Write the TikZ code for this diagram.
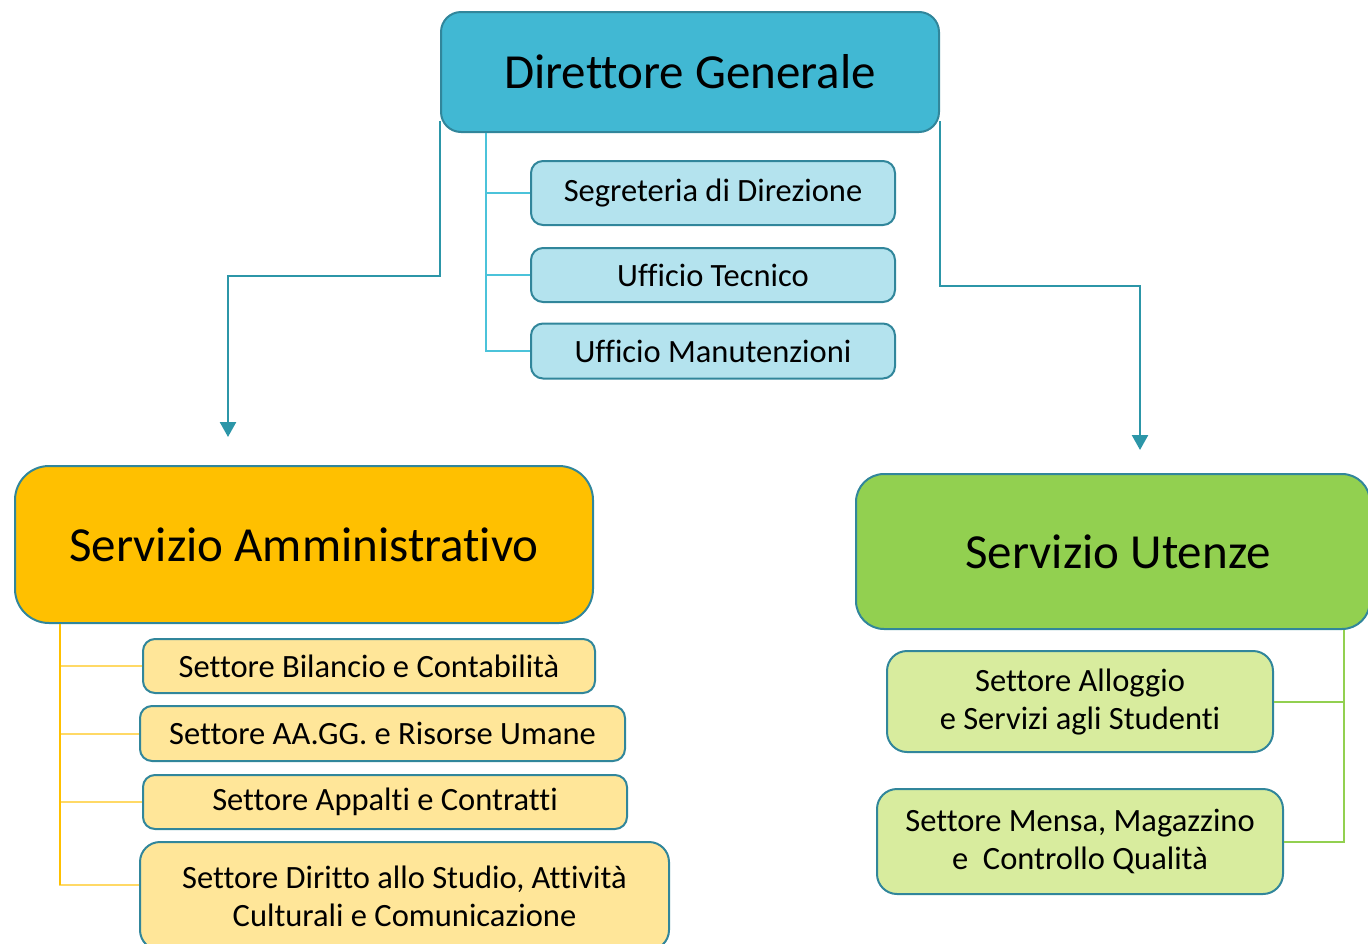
\documentclass[tikz,border=0pt]{standalone}
\usepackage{fontspec}
\setmainfont{Carlito}[Ligatures=NoCommon]
\usetikzlibrary{arrows.meta}
\definecolor{boxline}{HTML}{31869B}
\definecolor{dgfill}{HTML}{41B8D3}
\definecolor{ufill}{HTML}{B4E3EE}
\definecolor{uline}{HTML}{4BC3DA}
\definecolor{arrline}{HTML}{2C96A8}
\definecolor{safill}{HTML}{FFC000}
\definecolor{sfill}{HTML}{FFE699}
\definecolor{sline}{HTML}{FFD966}
\definecolor{sufill}{HTML}{92D050}
\definecolor{gfill}{HTML}{D8EC9E}
\begin{document}
\begin{tikzpicture}[x=1pt,y=-1pt,
  box/.style={draw=boxline, line width=2pt, rounded corners=12pt, align=center, inner sep=0pt},
  ufficio/.style={box, fill=ufill, minimum width=364pt, font=\fontsize{32.5}{38}\selectfont},
  settore/.style={box, fill=sfill, font=\fontsize{32.5}{38}\selectfont},
  gsettore/.style={box, fill=gfill, rounded corners=20pt, font=\fontsize{32.5}{38}\selectfont},
  big/.style={box, font=\fontsize{49}{55}\selectfont},
  arr/.style={draw=arrline, line width=2.5pt, -{Triangle[width=16pt,length=15pt]}}]
\useasboundingbox (0,0) rectangle (1368,943);
\clip (0,0) rectangle (1368,943);
\node[big, fill=dgfill, minimum width=498pt, minimum height=120pt, rounded corners=20pt] (dg) at (690,72) {Direttore Generale};
\node[ufficio, minimum height=64pt] (sd) at (713,193) {Segreteria di Direzione};
\node[ufficio, minimum height=54pt] (ut) at (713,275) {Ufficio Tecnico};
\node[ufficio, minimum height=55pt] (um) at (713,351) {Ufficio Manutenzioni};
\node[big, fill=safill, minimum width=578pt, minimum height=157pt, rounded corners=34pt] (sa) at (304,544.5) {Servizio Amministrativo};
\node[big, fill=sufill, minimum width=514pt, minimum height=155pt, rounded corners=28pt] (su) at (1113,551.5) {\hspace*{10pt}Servizio Utenze};
\node[settore, minimum width=452pt, minimum height=54pt] (sb) at (369,666) {Settore Bilancio e Contabilità};
\node[settore, minimum width=485pt, minimum height=55pt] (sg) at (382.5,733.5) {Settore AA.GG. e Risorse Umane};
\node[settore, minimum width=484pt, minimum height=54pt] (sap) at (385,802) {Settore Appalti e Contratti};
\node[settore, rounded corners=20pt, minimum width=529pt, minimum height=108pt] (sds) at (404.5,896) {Settore Diritto allo Studio, Attività\\Culturali e Comunicazione};
\node[gsettore, minimum width=386pt, minimum height=101pt] (sal) at (1080,701.5) {Settore Alloggio\\e Servizi agli Studenti};
\node[gsettore, minimum width=406pt, minimum height=105pt] (sm) at (1080,841.5) {Settore Mensa, Magazzino\\e~~Controllo Qualità};
\coordinate (sa-in) at (228,437);
\coordinate (su-in) at (1140,450);
\draw[arr] ([yshift=12pt]dg.south west) -- ++(0,155) -| (sa-in);
\draw[arr] ([yshift=12pt]dg.south east) -- ++(0,165) -| (su-in);
\draw[uline, line width=2pt] ([xshift=46pt]dg.south west) |- (sd.west);
\draw[uline, line width=2pt] ([xshift=46pt]dg.south west) |- (ut.west);
\draw[uline, line width=2pt] ([xshift=46pt]dg.south west) |- (um.west);
\draw[sline, line width=2pt] ([xshift=46pt]sa.south west) |- (sb.west);
\draw[sline, line width=2pt] ([xshift=46pt]sa.south west) |- (sg.west);
\draw[sline, line width=2pt] ([xshift=46pt]sa.south west) |- (sap.west);
\draw[sline, line width=2pt] ([xshift=46pt]sa.south west) |- ([yshift=11pt]sds.west);
\draw[safill, line width=2pt] ([xshift=46pt]sa.south west) -- ([xshift=46pt,yshift=11pt]sa.south west |- sds.west);
\draw[sufill, line width=2pt] ([xshift=-27pt]su.south east) |- (sal.east);
\draw[sufill, line width=2pt] ([xshift=-27pt]su.south east) |- (sm.east);
\end{tikzpicture}
\end{document}
